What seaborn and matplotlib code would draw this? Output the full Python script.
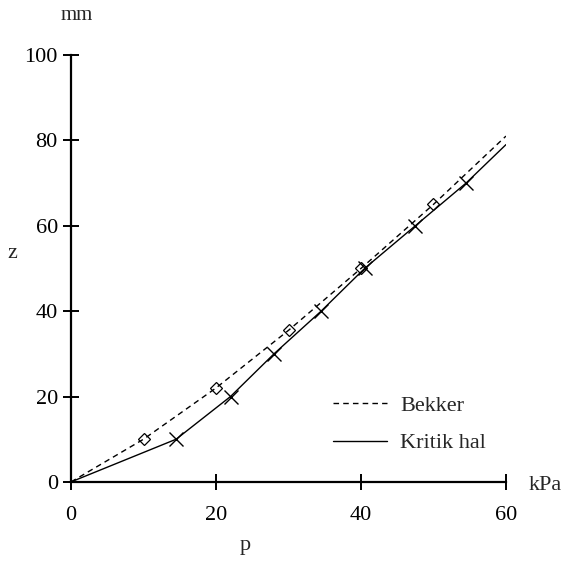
import numpy as np
import pandas as pd
import matplotlib
matplotlib.use("Agg")
import matplotlib.pyplot as plt
from matplotlib.lines import Line2D
import seaborn as sns

# Datos
p_bekker = [0, 10, 20, 30, 40, 50, 60]
z_bekker = [0, 10, 22, 35.5, 50, 65, 81]

p_kritik = [0, 14.5, 22, 28, 34.5, 40.5, 47.5, 54.5, 60]
z_kritik = [0, 10, 20, 30, 40, 50, 60, 70, 79]

x_ticks = [0, 20, 40, 60]
y_ticks = [0, 20, 40, 60, 80, 100]

sns.set_style("white")
plt.rcParams['font.family'] = ['Liberation Serif', 'DejaVu Serif']

fig = plt.figure(figsize=(5.73, 5.61), dpi=100)
ax = fig.add_axes([0.124, 0.141, 0.759, 0.761])

df_b = pd.DataFrame({"p": p_bekker, "z": z_bekker})
df_k = pd.DataFrame({"p": p_kritik, "z": z_kritik})

sns.lineplot(data=df_b, x="p", y="z", ax=ax, color="black", linewidth=1.0,
             linestyle=(0, (4, 3)), marker="D", markersize=6,
             markerfacecolor="none", markeredgecolor="black", markeredgewidth=0.9,
             markevery=[1, 2, 3, 4, 5], sort=False)
sns.lineplot(data=df_k, x="p", y="z", ax=ax, color="black", linewidth=1.0,
             marker="x", markersize=10, markeredgewidth=1.0,
             markeredgecolor="black",
             markevery=list(range(1, 8)), sort=False)

ax.set_xlim(0, 60)
ax.set_ylim(0, 100)
ax.set_xticks(x_ticks)
ax.set_yticks(y_ticks)
ax.set_xlabel("")
ax.set_ylabel("")
for s in ["top", "right"]:
    ax.spines[s].set_visible(False)
for s in ["left", "bottom"]:
    ax.spines[s].set_color("black")
    ax.spines[s].set_linewidth(1.6)
ax.tick_params(axis="both", direction="inout", length=11, width=1.4,
               labelsize=16, colors="black", pad=4, bottom=True, left=True)
ax.tick_params(axis="x", pad=12)

fig.text(0.134, 0.973, "mm", fontsize=15, ha="center", va="center")
fig.text(0.022, 0.549, "z", fontsize=16, ha="center", va="center")
fig.text(0.428, 0.028, "p", fontsize=16, ha="center", va="center")
fig.text(0.952, 0.135, "kPa", fontsize=16, ha="center", va="center")

handles = [Line2D([], [], color="black", linewidth=1.0, linestyle=(0, (4, 3))),
           Line2D([], [], color="black", linewidth=1.0)]
ax.legend(handles, ["Bekker", "Kritik hal"], loc="lower right",
          bbox_to_anchor=(1.0, 0.02), frameon=False, fontsize=16,
          handlelength=2.4, handletextpad=0.6, labelspacing=0.75)

fig.savefig("out.png", dpi=100)
